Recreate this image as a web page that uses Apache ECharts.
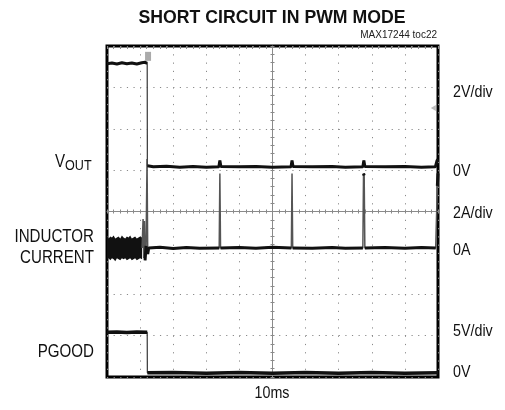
<!DOCTYPE html>
<html>
<head>
<meta charset="utf-8">
<script src="https://cdn.jsdelivr.net/npm/echarts@6/dist/echarts.min.js"></script>
<style>
  html, body { margin: 0; padding: 0; background: #fff; }
  #main { width: 505px; height: 410px; }
</style>
</head>
<body>
<div id="main"></div>
<script>
// scope screen: 10 divisions of 10ms across, 8 divisions up
const timeRange = [0, 100];
const divRange = [0, 8];

// where each channel's zero sits (divisions from bottom) and units per division
const voutZero = 5.08, voutPerDiv = 2;
const ilZero = 3.12, ilPerDiv = 2;
const pgoodZero = 0.1, pgoodPerDiv = 5;

// VOUT trace [ms, V]
const vout = [
  [0, 4.98], [1.5, 5.02], [3, 4.97], [4.5, 5.03], [6, 4.98], [7.5, 5.02], [9, 4.97],
  [10.5, 5.03], [11.5, 5.05], [11.9, 5.12], [12.15, 5.0], [12.2, 0.05],
  [14, 0], [18, 0.03], [22, -0.02], [26, 0.02], [30, -0.02], [33.8, 0], [34.1, 0.3], [34.4, 0.02],
  [40, 0], [45, 0.02], [50, -0.02], [55.6, 0], [55.9, 0.3], [56.2, 0.02],
  [62, 0], [68, 0.02], [72, -0.02], [77.3, 0], [77.6, 0.3], [77.9, 0.02],
  [84, 0], [90, 0.02], [95, -0.02], [99.2, 0], [99.7, 0.3], [100, 0.35]
];

// inductor current ripple band before the short [ms], upper/lower edge [A]
const rippleTime = [0, 0.5, 1, 1.5, 2, 2.5, 3, 3.5, 4, 4.5, 5, 5.5, 6, 6.5, 7, 7.5, 8, 8.5, 9, 9.5, 10, 10.6];
const rippleHigh = [0.6, 0.45, 0.55, 0.5, 0.6, 0.45, 0.5, 0.55, 0.45, 0.6, 0.5, 0.45, 0.55, 0.5, 0.6, 0.45, 0.5, 0.55, 0.45, 0.5, 0.55, 0.5];
const rippleLow = [-0.55, -0.5, -0.6, -0.5, -0.55, -0.65, -0.5, -0.55, -0.6, -0.5, -0.55, -0.5, -0.6, -0.55, -0.5, -0.6, -0.55, -0.5, -0.6, -0.55, -0.5, -0.55];

// inductor current after the short [ms, A]
const inductorCurrent = [
  [10.6, 0], [10.9, 1.4], [11.1, -0.5], [11.3, 1.3], [11.5, -0.6], [11.8, 0.1],
  [12.1, 4.3], [12.3, -0.3], [12.6, 0], [16, 0.03], [20, -0.03], [24, 0.02], [28, -0.02],
  [33.9, 0], [34.1, 3.6], [34.3, 0], [40, 0.02], [45, -0.02], [50, 0.03],
  [55.7, 0], [55.9, 3.6], [56.1, 0], [62, -0.02], [68, 0.02], [72, -0.02],
  [77.3, 0], [77.5, 3.6], [77.7, 3.5], [77.9, 0], [84, 0.02], [90, -0.02], [95, 0.02],
  [99.3, 0], [99.8, 3.0], [100, 3.6]
];

// PGOOD trace [ms, V]
const pgood = [
  [0, 4.9], [3, 4.95], [6, 4.88], [9, 4.93], [12.15, 4.9], [12.2, 0],
  [20, 0.05], [30, -0.05], [40, 0.05], [50, -0.05], [60, 0.05], [70, -0.05],
  [80, 0.05], [90, -0.05], [100, 0]
];

// scope decorations: trigger position tag and trigger level arrow
const triggerTag = [12.4, 7.75];
const triggerLevel = [98.6, 6.5];

const toDiv = (pts, zero, perDiv) => pts.map(([t, v]) => [t, zero + v / perDiv]);
// bright flat parts only: break the line at steep edges
const flatParts = pts => {
  const out = [];
  pts.forEach((p, i) => {
    if (i > 0 && Math.abs(p[1] - pts[i - 1][1]) > 0.5) out.push([p[0], '-']);
    out.push(p);
  });
  return out;
};

const voutDiv = toDiv(vout, voutZero, voutPerDiv);
const ilDiv = toDiv(inductorCurrent, ilZero, ilPerDiv);
const pgoodDiv = toDiv(pgood, pgoodZero, pgoodPerDiv);

const FONT = '"Liberation Sans", Arial, sans-serif';
const NARROW = 0.84; // Arial Narrow look
const GRID = { left: 107, top: 46, width: 331, height: 331 };

const dotted = (len) => ({ show: true, lineStyle: { color: '#8a8a8a', width: 1, type: [1.2, len - 1.2] } });
const plain = { axisLabel: { show: false }, splitLine: { show: false } };

const label = (text, x, y, size, align, extra) => Object.assign({
  type: 'text', x: x, y: y, scaleX: NARROW,
  style: { text: text, font: size + 'px ' + FONT, fill: '#111', align: align, verticalAlign: 'middle' }
}, extra || {});

const chart = echarts.init(document.getElementById('main'));
chart.setOption({
  animation: false,
  backgroundColor: '#fff',
  grid: Object.assign({ show: true, borderColor: '#000', borderWidth: 3, backgroundColor: '#fff' }, GRID),
  xAxis: [
    { type: 'value', min: timeRange[0], max: timeRange[1], interval: 10,
      axisLine: { show: false }, axisTick: { show: false }, axisLabel: { show: false },
      splitLine: dotted(GRID.height / 40) },
    // centre line, ticks up and down
    Object.assign({ type: 'value', min: 0, max: 100, interval: 2, position: 'bottom', offset: -GRID.height / 2,
      axisLine: { show: true, lineStyle: { color: '#8a8a8a', width: 1 } },
      axisTick: { show: true, inside: true, length: 2, lineStyle: { color: '#8a8a8a' } } }, plain),
    Object.assign({ type: 'value', min: 0, max: 100, interval: 2, position: 'bottom', offset: -GRID.height / 2,
      axisLine: { show: false },
      axisTick: { show: true, inside: false, length: 2, lineStyle: { color: '#8a8a8a' } } }, plain),
    // border ticks
    Object.assign({ type: 'value', min: 0, max: 100, interval: 2, position: 'top',
      axisLine: { show: false },
      axisTick: { show: true, inside: true, length: 3, lineStyle: { color: '#8a8a8a' } } }, plain)
  ],
  yAxis: [
    { type: 'value', min: divRange[0], max: divRange[1], interval: 1,
      axisLine: { show: false }, axisTick: { show: false }, axisLabel: { show: false },
      splitLine: dotted(GRID.width / 50) },
    Object.assign({ type: 'value', min: 0, max: 8, interval: 0.2, position: 'left', offset: -GRID.width / 2,
      axisLine: { show: true, lineStyle: { color: '#8a8a8a', width: 1 } },
      axisTick: { show: true, inside: true, length: 2, lineStyle: { color: '#8a8a8a' } } }, plain),
    Object.assign({ type: 'value', min: 0, max: 8, interval: 0.2, position: 'left', offset: -GRID.width / 2,
      axisLine: { show: false },
      axisTick: { show: true, inside: false, length: 2, lineStyle: { color: '#8a8a8a' } } }, plain)
  ],
  series: [
    { name: 'ripple', type: 'custom', silent: true, z: 3, clip: true,
      data: [[rippleTime[0], ilZero]],
      renderItem: (params, api) => {
        const upper = rippleTime.map((t, i) => api.coord([t, ilZero + rippleHigh[i] / ilPerDiv]));
        const lower = rippleTime.map((t, i) => api.coord([t, ilZero + rippleLow[i] / ilPerDiv])).reverse();
        return { type: 'polygon', shape: { points: upper.concat(lower) }, style: { fill: '#111' } };
      } },
    { name: 'IL edges', type: 'line', data: ilDiv, symbol: 'none', silent: true,
      lineStyle: { color: '#555', width: 1.5 }, z: 4 },
    { name: 'IL', type: 'line', data: flatParts(ilDiv), symbol: 'none', silent: true,
      lineStyle: { color: '#111', width: 3 }, z: 5 },
    { name: 'VOUT edges', type: 'line', data: voutDiv, symbol: 'none', silent: true,
      lineStyle: { color: '#444', width: 1.3 }, z: 4,
      markPoint: { silent: true, symbol: 'rect', symbolSize: [6, 9], itemStyle: { color: '#aaa' },
        label: { show: false }, data: [{ coord: triggerTag }] } },
    { name: 'VOUT', type: 'line', data: flatParts(voutDiv), symbol: 'none', silent: true,
      lineStyle: { color: '#111', width: 3 }, z: 5,
      markPoint: { silent: true, symbol: 'triangle', symbolRotate: 90, symbolSize: [6, 5], itemStyle: { color: '#bbb' },
        label: { show: false }, data: [{ coord: triggerLevel }] } },
    { name: 'PGOOD edges', type: 'line', data: pgoodDiv, symbol: 'none', silent: true,
      lineStyle: { color: '#444', width: 1.3 }, z: 4 },
    { name: 'PGOOD', type: 'line', data: flatParts(pgoodDiv), symbol: 'none', silent: true,
      lineStyle: { color: '#111', width: 3.5 }, z: 5 }
  ],
  graphic: [
    { type: 'text', x: 272, y: 18, scaleX: 0.93,
      style: { text: 'SHORT CIRCUIT IN PWM MODE', font: 'bold 19px ' + FONT, fill: '#111', align: 'center', verticalAlign: 'middle' } },
    { type: 'text', x: 437, y: 35,
      style: { text: 'MAX17244 toc22', font: '10px ' + FONT, fill: '#222', align: 'right', verticalAlign: 'middle' } },
    label('V', 65, 162, 18, 'right'),
    label('OUT', 65, 166, 15, 'left'),
    label('INDUCTOR', 94, 237, 18, 'right'),
    label('CURRENT', 94, 258, 18, 'right'),
    label('PGOOD', 94, 352, 18, 'right'),
    label('2V/div', 453, 92, 17, 'left'),
    label('0V', 453, 171, 17, 'left'),
    label('2A/div', 453, 213, 17, 'left'),
    label('0A', 453, 250, 17, 'left'),
    label('5V/div', 453, 331, 17, 'left'),
    label('0V', 453, 372, 17, 'left'),
    label('10ms', 272, 393, 17, 'center')
  ]
});
</script>
</body>
</html>
